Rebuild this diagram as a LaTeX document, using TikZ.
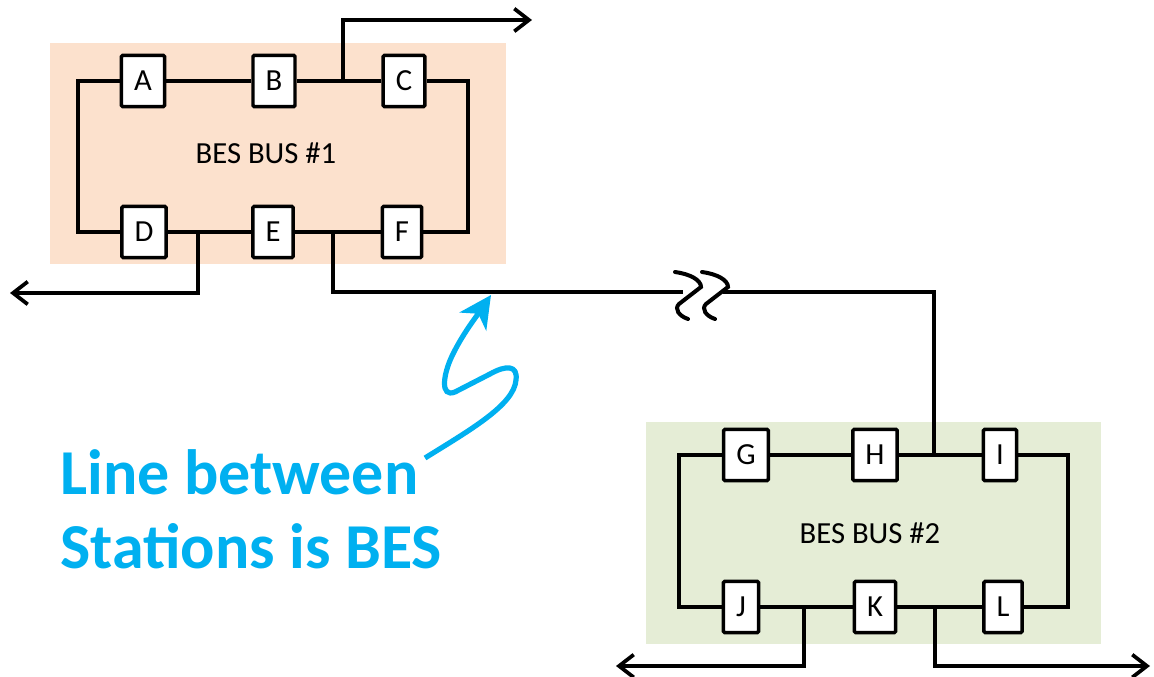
\documentclass[tikz,border=0pt]{standalone}
\usepackage{fontspec}
\setmainfont{Carlito}
\usepackage{xcolor}
\usetikzlibrary{arrows.meta}
\definecolor{busone}{HTML}{FCE1CD}
\definecolor{bustwo}{HTML}{E5EDD6}
\definecolor{notecol}{HTML}{00B0F0}

\begin{document}
\begin{tikzpicture}[x=0.75pt, y=-0.75pt,
breaker/.style={draw=black, line width=2.6pt, fill=white, rounded corners=1pt, minimum height=38.5pt, inner xsep=9.5pt, inner ysep=0pt, font=\fontsize{23}{23}\selectfont},
buslabel/.style={font=\fontsize{23}{23}\selectfont},
ring/.style={line width=3.5pt},
feeder/.style={line width=2.8pt},
arrow/.style={feeder, -{Straight Barb[length=11pt, width=17pt]}},
breakmark/.style={line width=3pt, line cap=round},
notetext/.style={text=notecol, font=\fontsize{48}{56}\selectfont\bfseries, align=left, inner sep=0pt},
pointer/.style={draw=notecol, line width=3.9pt, -{Stealth[length=24pt, width=24pt, inset=7pt]}},
]
\useasboundingbox (0,0) rectangle (1154,677);

% station areas
\fill[busone] (50,43) rectangle (506,264);
\fill[bustwo] (646,422) rectangle (1101,644);

% bus 1
\node (A) [breaker] at (143,81) {A};
\node (B) [breaker] at (274,81) {B};
\node (C) [breaker] at (404,81) {C};
\node (D) [breaker] at (144,232) {D};
\node (E) [breaker] at (273,232) {E};
\node (F) [breaker] at (402,232) {F};
\node (lbl1) [buslabel] at (266,153) {BES BUS \#1};
\coordinate (c1nw) at (78,81);
\coordinate (c1ne) at (468,81);
\coordinate (c1sw) at (78,232);
\coordinate (c1se) at (468,232);
\draw[ring] (A) -- (c1nw) -- (c1sw) -- (D) -- (E) -- (F) -- (c1se) -- (c1ne) -- (C) -- (B) -- (A);

% bus 2
\node (G) [breaker] at (746,455) {G};
\node (H) [breaker] at (875,455) {H};
\node (I) [breaker] at (1000,455) {I};
\node (J) [breaker] at (741,607) {J};
\node (K) [breaker] at (875,607) {K};
\node (L) [breaker] at (1003,607) {L};
\node (lbl2) [buslabel] at (870,533) {BES BUS \#2};
\coordinate (c2nw) at (679,455);
\coordinate (c2ne) at (1068,455);
\coordinate (c2sw) at (679,607);
\coordinate (c2se) at (1068,607);
\draw[ring] (G) -- (c2nw) -- (c2sw) -- (J) -- (K) -- (L) -- (c2se) -- (c2ne) -- (I) -- (H) -- (G);

% feeders
\coordinate (tapBC) at (343,81);
\coordinate (outBC) at (532,20);
\coordinate (tapDE) at (198,232);
\coordinate (outDE) at (10,293);
\coordinate (tapEF) at (333,232);
\coordinate (brkL) at (683,292);
\coordinate (brkR) at (723,292);
\coordinate (tapHI) at (934,455);
\coordinate (tapJK) at (804,607);
\coordinate (outJK) at (616,666);
\coordinate (tapKL) at (935,607);
\coordinate (outKL) at (1150,666);
\draw[arrow] (tapBC) |- (outBC);
\draw[arrow] (tapDE) |- (outDE);
\draw[feeder] (tapEF) |- (brkL);
\draw[feeder] (brkR) -| (tapHI);
\draw[arrow] (tapJK) |- (outJK);
\draw[arrow] (tapKL) |- (outKL);

% line break mark
\draw[breakmark] (675,272) .. controls (690,274) and (701,280) .. (701,287) -- (679,304) .. controls (674,309) and (679,316) .. (688,319);
\draw[breakmark] (702,272) .. controls (717,274) and (728,280) .. (728,287) -- (706,304) .. controls (701,309) and (706,316) .. (715,319);

% note
\node (note) [notetext, anchor=north west] at (60,449) {Line between\\Stations is BES};
\coordinate (ptrstart) at (425,458);
\coordinate (ptrtip) at (491,295);
\draw[pointer] (ptrstart) .. controls (470,430) and (514,405) .. (516,380) .. controls (518,365) and (506,365) .. (490,374) -- (455,392) .. controls (440,398) and (443,375) .. (452,356) .. controls (462,335) and (476,317) .. (ptrtip);

\end{tikzpicture}
\end{document}
